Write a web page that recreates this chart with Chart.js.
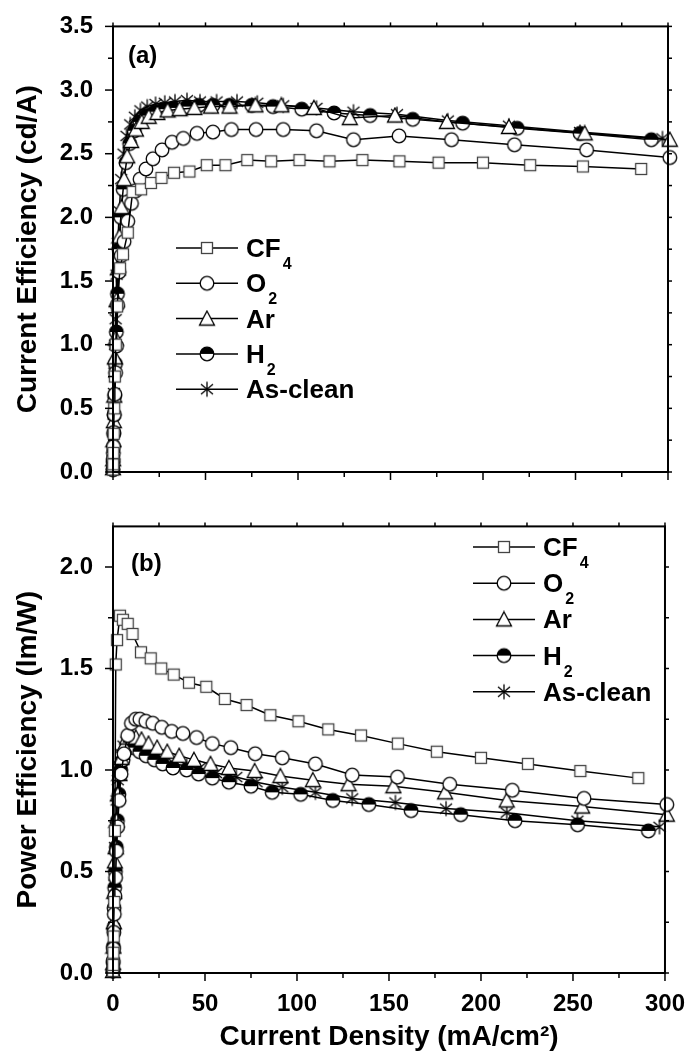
<!DOCTYPE html>
<html>
<head>
<meta charset="utf-8">
<script src="https://cdn.jsdelivr.net/npm/chart.js@4"></script>
<style>
  html, body { margin: 0; padding: 0; background: #fff; }
  #ce { position: absolute; left: 0; top: 0; }
  #pe { position: absolute; left: 0; top: 500px; }
</style>
</head>
<body>
<canvas id="ce" width="694" height="500"></canvas>
<canvas id="pe" width="694" height="557"></canvas>
<script>
// tick labels
const xTicks = [0, 50, 100, 150, 200, 250, 300];
const ceTicks = [0, 0.5, 1.0, 1.5, 2.0, 2.5, 3.0, 3.5];
const peTicks = [0, 0.5, 1.0, 1.5, 2.0];
const legendText = [['CF', '4'], ['O', '2'], ['Ar', ''], ['H', '2'], ['As-clean', '']];

// current density (mA/cm2), current efficiency (cd/A), power efficiency (lm/W)
const cf4J = [0, 0.1, 0.2, 0.4, 0.65, 1.0, 1.5, 2.2, 3.8, 5.4, 8.0, 10.6, 15.2, 20.5, 26.2, 33, 41.3, 50.7, 60.8, 72.6, 85.5, 100.8, 117, 134.8, 154.8, 176, 200, 225.5, 254, 285.5];
const cf4CE = [0.02, 0.06, 0.15, 0.3, 0.5, 0.75, 1.0, 1.3, 1.6, 1.71, 1.88, 2.2, 2.22, 2.27, 2.31, 2.35, 2.36, 2.41, 2.41, 2.45, 2.44, 2.45, 2.44, 2.45, 2.44, 2.43, 2.43, 2.41, 2.40, 2.38];
const cf4PE = [0.01, 0.04, 0.1, 0.18, 0.35, 0.7, 1.52, 1.64, 1.76, 1.74, 1.72, 1.67, 1.58, 1.55, 1.50, 1.47, 1.43, 1.41, 1.35, 1.32, 1.27, 1.24, 1.20, 1.17, 1.13, 1.09, 1.06, 1.03, 0.995, 0.96];

const o2J = [0, 0.1, 0.25, 0.45, 0.7, 1.0, 1.4, 1.9, 2.5, 3.3, 4.4, 6, 8, 10, 12.3, 14.6, 17.8, 21.6, 26.5, 31.9, 38, 45.4, 54, 64, 77.3, 92, 110, 130, 154.6, 183, 217, 256, 301];
const o2CE = [0.02, 0.1, 0.2, 0.31, 0.45, 0.61, 0.78, 0.99, 1.31, 1.57, 1.7, 1.81, 1.97, 2.11, 2.21, 2.30, 2.38, 2.46, 2.53, 2.59, 2.62, 2.66, 2.67, 2.69, 2.69, 2.69, 2.68, 2.61, 2.64, 2.61, 2.57, 2.53, 2.47];
const o2PE = [0.01, 0.06, 0.12, 0.2, 0.29, 0.38, 0.47, 0.6, 0.72, 0.85, 0.98, 1.08, 1.17, 1.23, 1.25, 1.25, 1.24, 1.23, 1.21, 1.19, 1.18, 1.16, 1.13, 1.11, 1.08, 1.06, 1.03, 0.975, 0.965, 0.93, 0.90, 0.86, 0.83];

const arJ = [0, 0.1, 0.25, 0.45, 0.7, 1.0, 1.4, 1.9, 2.6, 3.5, 4.6, 6, 7.7, 9.8, 12.4, 15.5, 19.3, 24, 29.5, 36, 44, 53, 63, 77, 91, 108.6, 128, 152.4, 180.5, 214, 255, 301];
const arCE = [0.03, 0.1, 0.25, 0.4, 0.6, 0.9, 1.05, 1.35, 1.6, 1.85, 2.08, 2.3, 2.48, 2.6, 2.69, 2.75, 2.79, 2.82, 2.84, 2.85, 2.86, 2.87, 2.87, 2.88, 2.88, 2.86, 2.78, 2.80, 2.75, 2.71, 2.66, 2.61];
const arPE = [0.01, 0.05, 0.13, 0.25, 0.4, 0.55, 0.62, 0.75, 0.88, 0.98, 1.06, 1.12, 1.16, 1.17, 1.16, 1.15, 1.13, 1.11, 1.09, 1.07, 1.05, 1.03, 1.01, 0.995, 0.97, 0.95, 0.93, 0.92, 0.89, 0.85, 0.82, 0.78];

const h2J = [0, 0.1, 0.2, 0.4, 0.6, 0.9, 1.3, 1.8, 2.4, 3.2, 4.2, 5.5, 7, 9, 11.5, 14.5, 18, 22.5, 27, 32.6, 40, 46.5, 54, 63, 75, 86.5, 102, 119.5, 139, 162, 189, 218.5, 252.5, 291];
const h2CE = [0.02, 0.08, 0.15, 0.3, 0.45, 0.6, 0.85, 1.1, 1.4, 1.75, 2.0, 2.22, 2.43, 2.58, 2.68, 2.75, 2.8, 2.83, 2.85, 2.86, 2.87, 2.88, 2.88, 2.88, 2.88, 2.87, 2.85, 2.82, 2.80, 2.77, 2.74, 2.70, 2.66, 2.61];
const h2PE = [0.01, 0.05, 0.13, 0.22, 0.32, 0.42, 0.5, 0.62, 0.75, 0.88, 1.0, 1.05, 1.1, 1.12, 1.11, 1.09, 1.07, 1.05, 1.03, 1.01, 1.00, 0.98, 0.96, 0.94, 0.92, 0.89, 0.88, 0.85, 0.83, 0.80, 0.78, 0.75, 0.73, 0.70];

const cleanJ = [0, 0.08, 0.18, 0.32, 0.5, 0.75, 1.05, 1.45, 1.95, 2.6, 3.4, 4.4, 5.7, 7.3, 9.3, 11.8, 14.8, 18.5, 23, 28, 33.5, 40, 47, 56, 67, 78, 92, 110, 130, 153.5, 181, 214, 252.4, 297];
const cleanCE = [0.03, 0.12, 0.25, 0.45, 0.62, 0.78, 1.0, 1.2, 1.55, 1.8, 2.05, 2.3, 2.5, 2.64, 2.73, 2.79, 2.84, 2.87, 2.89, 2.9, 2.91, 2.92, 2.91, 2.91, 2.91, 2.9, 2.88, 2.86, 2.83, 2.81, 2.76, 2.72, 2.67, 2.62];
const cleanPE = [0.01, 0.05, 0.12, 0.22, 0.35, 0.48, 0.62, 0.72, 0.85, 0.95, 1.02, 1.08, 1.12, 1.14, 1.14, 1.12, 1.1, 1.08, 1.06, 1.04, 1.03, 1.02, 1.01, 0.985, 0.965, 0.94, 0.915, 0.89, 0.86, 0.84, 0.81, 0.79, 0.75, 0.72];

const FONT = "'Liberation Sans', Arial, sans-serif";

// marker glyphs
function glyph(draw) {
  const c = document.createElement('canvas');
  c.width = 18; c.height = 18;
  const g = c.getContext('2d');
  g.lineWidth = 1.3;
  g.strokeStyle = '#000';
  g.fillStyle = '#fff';
  draw(g);
  return c;
}
const squareMk = glyph(g => {
  g.fillRect(3, 3, 12, 12);
  g.strokeStyle = '#444';
  g.strokeRect(3.5, 3.5, 11, 11);
});
const circleMk = glyph(g => {
  g.beginPath(); g.arc(9, 9, 6.8, 0, Math.PI * 2); g.fill(); g.stroke();
});
const triMk = glyph(g => {
  g.beginPath(); g.moveTo(9, 1.5); g.lineTo(16.5, 15.5); g.lineTo(1.5, 15.5); g.closePath();
  g.fill(); g.stroke();
});
const halfMk = glyph(g => {
  g.beginPath(); g.arc(9, 9, 6.8, 0, Math.PI * 2); g.fill();
  g.fillStyle = '#000';
  g.beginPath(); g.arc(9, 9, 6.8, Math.PI, 0); g.closePath(); g.fill();
  g.beginPath(); g.arc(9, 9, 6.8, 0, Math.PI * 2); g.stroke();
});
const starMk = glyph(g => {
  g.beginPath();
  g.moveTo(9, 1.5); g.lineTo(9, 16.5);
  g.moveTo(3, 4); g.lineTo(15, 14);
  g.moveTo(15, 4); g.lineTo(3, 14);
  g.stroke();
});
const markers = [squareMk, circleMk, triMk, halfMk, starMk];

function pts(xs, ys) {
  return xs.map((x, i) => ({ x: x, y: ys[i] }));
}
function ds(xs, ys, mk) {
  return {
    data: pts(xs, ys),
    showLine: true,
    borderColor: '#000',
    borderWidth: 1.5,
    pointStyle: mk,
    pointRadius: 7,
    tension: 0,
    clip: false
  };
}

// frame, ticks, legend, panel label
const decor = {
  id: 'decor',
  afterDraw(chart, args, o) {
    const { ctx, chartArea: a, scales: { x, y } } = chart;
    ctx.save();
    ctx.strokeStyle = '#000';
    ctx.lineWidth = 2;
    ctx.strokeRect(a.left, a.top, a.right - a.left, a.bottom - a.top);
    ctx.lineWidth = 1.5;
    const ln = (x1, y1, x2, y2) => { ctx.beginPath(); ctx.moveTo(x1, y1); ctx.lineTo(x2, y2); ctx.stroke(); };
    for (let i = 0; i < xTicks.length; i++) {
      const v = xTicks[i];
      const p = x.getPixelForValue(v);
      ln(p, a.bottom, p, a.bottom + 8);
      ln(p, a.top, p, a.top - 4);
      if (i < xTicks.length - 1) {
        const m = x.getPixelForValue((v + xTicks[i + 1]) / 2);
        ln(m, a.bottom, m, a.bottom + 5);
        ln(m, a.top, m, a.top - 4);
      }
    }
    const yt = o.yTicks;
    for (let i = 0; i < yt.length; i++) {
      const p = y.getPixelForValue(yt[i]);
      ln(a.left, p, a.left - 8, p);
      ln(a.right, p, a.right + 4, p);
      const mv = yt[i] + 0.25;
      if (mv < y.max) {
        const m = y.getPixelForValue(mv);
        ln(a.left, m, a.left - 5, m);
        ln(a.right, m, a.right + 4, m);
      }
    }
    // panel label
    ctx.fillStyle = '#000';
    ctx.font = 'bold 24px ' + FONT;
    ctx.textBaseline = 'alphabetic';
    ctx.fillText(o.panel, o.panelX, o.panelY);
    // legend
    for (let i = 0; i < legendText.length; i++) {
      const ry = o.legY + i * o.legGap;
      ctx.lineWidth = 1.5;
      ln(o.legX, ry, o.legX + 62, ry);
      const mk = markers[i];
      ctx.drawImage(mk, o.legX + 31 - mk.width / 2, ry - mk.height / 2);
      ctx.font = 'bold 26px ' + FONT;
      const tx = o.legX + 70;
      ctx.fillText(legendText[i][0], tx, ry + 9);
      if (legendText[i][1]) {
        const w = ctx.measureText(legendText[i][0]).width;
        ctx.font = 'bold 16px ' + FONT;
        ctx.fillText(legendText[i][1], tx + w + 2, ry + 21);
      }
    }
    ctx.restore();
  }
};

function makeChart(id, sets, yMax, yT, yTitle, showX, pad, deco) {
  return new Chart(document.getElementById(id), {
    type: 'scatter',
    data: { datasets: sets },
    plugins: [decor],
    options: {
      responsive: false,
      animation: false,
      events: [],
      layout: { padding: pad },
      plugins: { legend: { display: false }, tooltip: { enabled: false }, decor: deco },
      scales: {
        x: {
          type: 'linear', min: 0, max: 300,
          grid: { display: false }, border: { display: false },
          afterBuildTicks: s => { s.ticks = xTicks.map(v => ({ value: v })); },
          afterFit: s => { s.height = showX ? 84 : 0; },
          ticks: { display: showX, padding: 9, color: '#000', font: { family: FONT, size: 24, weight: 'bold' } },
          title: {
            display: showX, text: 'Current Density (mA/cm²)', color: '#000',
            font: { family: FONT, size: 28, weight: 'bold' }, padding: { top: 0, bottom: 3 }
          }
        },
        y: {
          type: 'linear', min: 0, max: yMax,
          grid: { display: false }, border: { display: false },
          afterBuildTicks: s => { s.ticks = yT.map(v => ({ value: v })); },
          afterFit: s => { s.width = 113; },
          ticks: {
            padding: 12, color: '#000', font: { family: FONT, size: 24, weight: 'bold' },
            callback: v => v.toFixed(1)
          },
          title: {
            display: true, text: yTitle, color: '#000',
            font: { family: FONT, size: 28, weight: 'bold' }, padding: { top: 11, bottom: 0 }
          }
        }
      }
    }
  });
}

makeChart('ce', [
  ds(cf4J, cf4CE, squareMk),
  ds(o2J, o2CE, circleMk),
  ds(arJ, arCE, triMk),
  ds(h2J, h2CE, halfMk),
  ds(cleanJ, cleanCE, starMk)
], 3.5, ceTicks, 'Current Efficiency (cd/A)', false,
  { top: 22, right: 26, bottom: 28, left: 0 },
  { yTicks: ceTicks, panel: '(a)', panelX: 128, panelY: 63, legX: 176, legY: 248, legGap: 35.3 });

makeChart('pe', [
  ds(cf4J, cf4PE, squareMk),
  ds(o2J, o2PE, circleMk),
  ds(arJ, arPE, triMk),
  ds(h2J, h2PE, halfMk),
  ds(cleanJ, cleanPE, starMk)
], 2.2, peTicks, 'Power Efficiency (lm/W)', true,
  { top: 24, right: 26, bottom: 0, left: 0 },
  { yTicks: peTicks, panel: '(b)', panelX: 131, panelY: 71, legX: 473, legY: 47, legGap: 36.2 });
</script>
</body>
</html>
